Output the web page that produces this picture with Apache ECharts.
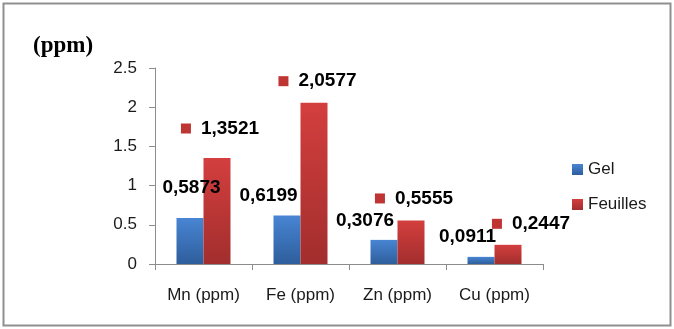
<!DOCTYPE html>
<html>
<head>
<meta charset="utf-8">
<script src="https://cdn.jsdelivr.net/npm/echarts@6/dist/echarts.min.js"></script>
<style>
  html, body { margin: 0; padding: 0; background: #fff; }
  #chart { width: 674px; height: 329px; }
</style>
</head>
<body>
<div id="chart"></div>
<script>
// Element concentrations, gel vs. leaves
const categories = ['Mn (ppm)', 'Fe (ppm)', 'Zn (ppm)', 'Cu (ppm)'];
const gelValues = [0.5873, 0.6199, 0.3076, 0.0911];
const feuillesValues = [1.3521, 2.0577, 0.5555, 0.2447];
const seriesNames = ['Gel', 'Feuilles'];
const yMin = 0, yMax = 2.5, yStep = 0.5;

// Hand-placed label nudges (px) relative to each bar's top
const gelLabelShift = [[1.5, -20], [-18.5, -10], [-19, -9], [-13.5, -10]];
const feuillesLabelShift = [[3, -19.5], [3.5, -11.5], [3, -12], [23, -11]];

const FONT = '"Liberation Sans", Arial, sans-serif';
const fmt = v => v.toFixed(4).replace('.', ',');

const gelFill = new echarts.graphic.LinearGradient(0, 0, 0, 1, [
  { offset: 0, color: '#4885d3' }, { offset: 1, color: '#2e5e9c' }
]);
const feuillesFill = new echarts.graphic.LinearGradient(0, 0, 0, 1, [
  { offset: 0, color: '#d33f3e' }, { offset: 1, color: '#a22e2d' }
]);

const labelBase = {
  show: true, position: 'top', distance: 0,
  fontFamily: FONT, fontSize: 19, fontWeight: 'bold', color: '#000', lineHeight: 20
};

const gelData = gelValues.map((v, i) => ({
  value: v,
  label: Object.assign({}, labelBase, { offset: gelLabelShift[i], formatter: fmt(v) })
}));

const feuillesData = feuillesValues.map((v, i) => ({
  value: v,
  label: Object.assign({}, labelBase, {
    offset: feuillesLabelShift[i],
    formatter: '{sq|}{v|' + fmt(v) + '}',
    rich: {
      sq: { width: 10, height: 10, backgroundColor: '#bf3534', verticalAlign: 'middle' },
      v: { fontFamily: FONT, fontSize: 19, fontWeight: 'bold', color: '#000', padding: [0, 0, 0, 10], lineHeight: 20 }
    }
  })
}));

const chart = echarts.init(document.getElementById('chart'), null, { renderer: 'canvas' });
chart.setOption({
  animation: false,
  backgroundColor: '#fff',
  title: {
    text: '(ppm)', left: 33, top: 35, padding: 0,
    textStyle: { fontFamily: '"Liberation Serif", "Times New Roman", serif', fontSize: 23, fontWeight: 'bold', color: '#000' }
  },
  graphic: [{
    type: 'rect', silent: true, z: -1,
    shape: { x: 3.5, y: 3.5, width: 667, height: 322 },
    style: { fill: 'none', stroke: '#8f8f8f', lineWidth: 2 }
  }],
  legend: {
    orient: 'vertical', left: 572, top: 161, padding: 0,
    itemWidth: 11, itemHeight: 11, itemGap: 18,
    icon: 'rect',
    data: seriesNames,
    textStyle: { fontFamily: FONT, fontSize: 17, color: '#1a1a1a', padding: [0, 0, 0, 0] }
  },
  grid: { left: 155, right: 131, top: 68, bottom: 65 },
  xAxis: {
    type: 'category', data: categories,
    axisLine: { lineStyle: { color: '#8c8c8c', width: 1 } },
    axisTick: { show: true, length: 6, lineStyle: { color: '#8c8c8c' } },
    axisLabel: { fontFamily: FONT, fontSize: 17, color: '#1a1a1a', margin: 23 }
  },
  yAxis: {
    type: 'value', min: yMin, max: yMax, interval: yStep,
    axisLine: { show: true, lineStyle: { color: '#8c8c8c', width: 1 } },
    axisTick: { show: true, length: 6, lineStyle: { color: '#8c8c8c' } },
    splitLine: { show: false },
    axisLabel: { fontFamily: FONT, fontSize: 17, color: '#1a1a1a', margin: 18 }
  },
  series: [
    { name: seriesNames[0], type: 'bar', barWidth: 27, barGap: '0%',
      itemStyle: { color: gelFill }, data: gelData, z: 2 },
    { name: seriesNames[1], type: 'bar', barWidth: 27, barGap: '0%',
      itemStyle: { color: feuillesFill }, data: feuillesData, z: 2 }
  ]
});
</script>
</body>
</html>
